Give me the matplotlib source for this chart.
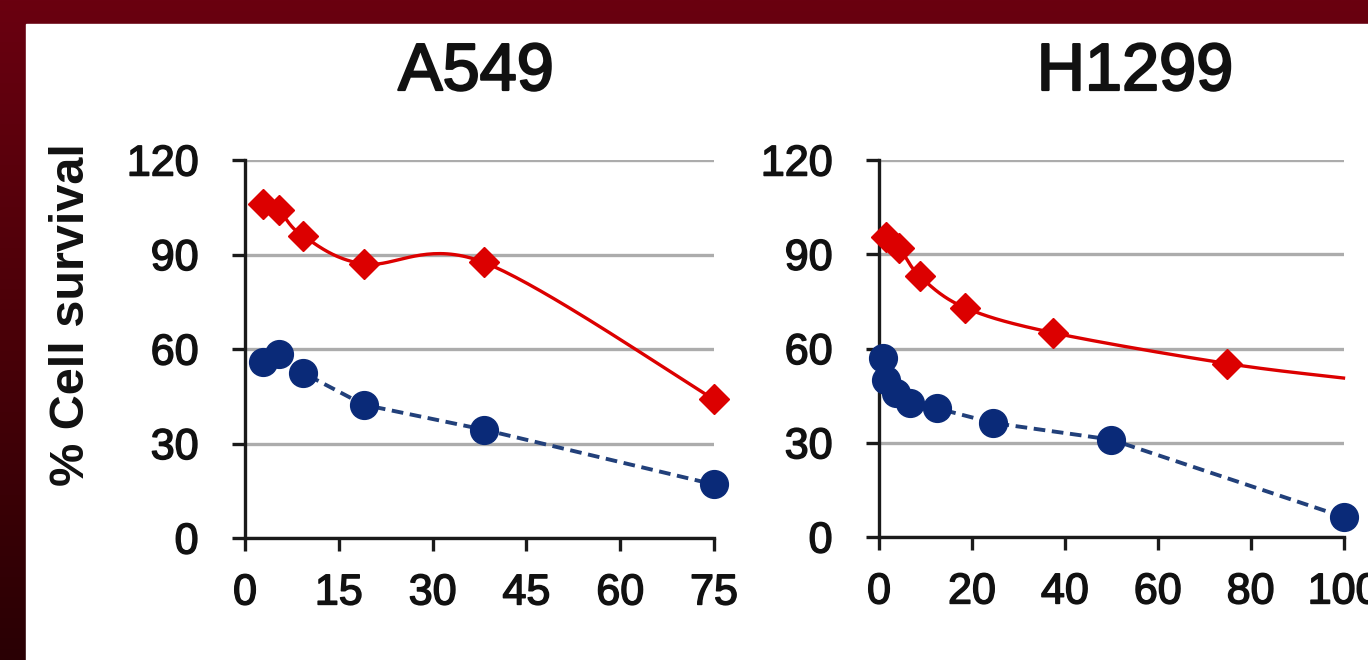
import numpy as np
import matplotlib
matplotlib.use("Agg")
import matplotlib.pyplot as plt
import matplotlib.patheffects as pe
from matplotlib.colors import LinearSegmentedColormap
from matplotlib.patches import Rectangle

plt.rcParams['font.family'] = ['Liberation Sans', 'DejaVu Sans']

# A549 panel
a549_dose = [2.8, 5.4, 9.2, 19, 38.2, 75]
a549_red = [106, 104, 96, 87, 87.5, 44]
a549_blue = [56, 58.5, 52.5, 42.3, 34.4, 17]

# H1299 panel (red line runs on to 100 without a marker)
h1299_red_dose = [1.6, 4.4, 8.8, 18.5, 37.5, 75, 100]
h1299_red = [95.5, 92, 83, 73, 65, 55.2, 50.6]
h1299_blue_dose = [0.78, 1.4, 3.7, 6.6, 12.4, 24.6, 50, 100]
h1299_blue = [57, 50, 45.8, 42.6, 41, 36.3, 31, 6.4]

titles = ['A549', 'H1299']
a549_xticks = [0, 15, 30, 45, 60, 75]
h1299_xticks = [0, 20, 40, 60, 80, 100]
yticks = [0, 30, 60, 90, 120]

RED = '#dc0000'
NAVY = '#0a2a78'
NAVY_LINE = '#22407a'
INK = '#111111'
heavy = [pe.withStroke(linewidth=1.1, foreground=INK)]

W, H = 1368, 660
fig = plt.figure(figsize=(W / 100, H / 100), dpi=100)

# dark red frame with a white panel
bg = fig.add_axes([0, 0, 1, 1], zorder=-10)
cmap = LinearSegmentedColormap.from_list('frame', ['#2a0004', '#4a0008', '#6a0010'])
bg.imshow(np.linspace(0, 1, 256).reshape(-1, 1)[::-1], cmap=cmap, aspect='auto',
          extent=[0, 1, 0, 1])
bg.add_patch(Rectangle((26 / W, 0), 1, 1 - 24 / H, color='white'))
bg.set_xlim(0, 1)
bg.set_ylim(0, 1)
bg.axis('off')


def smooth(ax, x, y, n=40):
    # Catmull-Rom style smoothing done in display space, like a spreadsheet "smoothed line"
    pts = ax.transData.transform(np.column_stack([x, y]))
    p = np.vstack([pts[0], pts, pts[-1]])
    t = np.linspace(0, 1, n)[:, None]
    out = []
    for i in range(1, len(p) - 2):
        p0, p1, p2, p3 = p[i - 1], p[i], p[i + 1], p[i + 2]
        c1 = p1 + (p2 - p0) / 6
        c2 = p2 - (p3 - p1) / 6
        seg = ((1 - t) ** 3) * p1 + 3 * ((1 - t) ** 2) * t * c1 + 3 * (1 - t) * t ** 2 * c2 + t ** 3 * p2
        out.append(seg)
    out = np.vstack(out)
    d = ax.transData.inverted().transform(out)
    return d[:, 0], d[:, 1]


def style_axes(ax, xmax, xticks):
    ax.set_xlim(0, xmax)
    ax.set_ylim(0, 120)
    ax.set_xticks(xticks)
    ax.set_yticks(yticks)
    ax.set_facecolor('none')
    for s in ['top', 'right']:
        ax.spines[s].set_visible(False)
    for s in ['left', 'bottom']:
        ax.spines[s].set_color('#1a1a1a')
        ax.spines[s].set_linewidth(2.4)
    ax.yaxis.grid(True, color='#acacac', lw=2.4)
    ax.set_axisbelow(True)
    ax.tick_params(direction='out', length=9.5, width=2.4, color='#1a1a1a',
                   labelsize=31, labelcolor=INK)
    ax.tick_params(axis='x', pad=16)
    ax.tick_params(axis='y', pad=24)
    for lab in ax.get_xticklabels() + ax.get_yticklabels():
        lab.set_path_effects(heavy)


ax1 = fig.add_axes([245 / W, 1 - 538 / H, 469 / W, 378 / H])
ax2 = fig.add_axes([879 / W, 1 - 537 / H, 464.5 / W, 377 / H])
style_axes(ax1, 75, a549_xticks)
style_axes(ax2, 100, h1299_xticks)

# A549
sx, sy = smooth(ax1, a549_dose, a549_red)
ax1.plot(sx, sy, color=RED, lw=2.4, clip_on=False, zorder=3)
ax1.plot(a549_dose, a549_red, 'D', ms=15, color=RED, clip_on=False, zorder=4)
ax1.plot(a549_dose, a549_blue, color=NAVY_LINE, lw=2.8, ls=(0, (3, 1.7)), clip_on=False, zorder=3)
ax1.plot(a549_dose, a549_blue, 'o', ms=20, color=NAVY, clip_on=False, zorder=4)

# H1299
sx, sy = smooth(ax2, h1299_red_dose, h1299_red)
ax2.plot(sx, sy, color=RED, lw=2.4, clip_on=False, zorder=3)
ax2.plot(h1299_red_dose[:-1], h1299_red[:-1], 'D', ms=15, color=RED, clip_on=False, zorder=4)
ax2.plot(h1299_blue_dose, h1299_blue, color=NAVY_LINE, lw=2.8, ls=(0, (3, 1.7)), clip_on=False, zorder=3)
ax2.plot(h1299_blue_dose, h1299_blue, 'o', ms=20, color=NAVY, clip_on=False, zorder=4)

# titles and shared y label
for xc, title in zip([476, 1135], titles):
    fig.text(xc / W, 1 - 90 / H, title, ha='center', va='baseline', fontsize=48,
             color=INK, path_effects=[pe.withStroke(linewidth=1.6, foreground=INK)])
fig.text(72 / W, 1 - 315 / H, '% Cell survival', rotation=90, ha='center', va='center',
         fontsize=35, fontweight='bold', color=INK)

fig.savefig('out.png', dpi=100)
